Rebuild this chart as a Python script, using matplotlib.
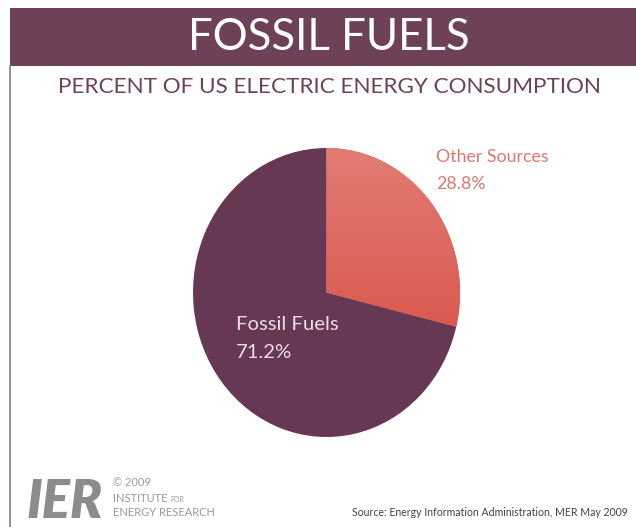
import numpy as np
import matplotlib.pyplot as plt
from matplotlib.patches import Rectangle
from matplotlib.colors import LinearSegmentedColormap

labels = ['Other Sources', 'Fossil Fuels']
shares = [28.8, 71.2]

banner_color = '#6e4159'
fossil_color = '#663853'
other_top = '#e27c73'
other_bottom = '#d4443a'

plt.rcParams['font.family'] = ['Lato', 'DejaVu Sans']

W, H = 636, 527
fig = plt.figure(figsize=(W / 100, H / 100), dpi=100)
fig.patch.set_facecolor('white')

# page decorations in pixel coordinates (y measured from top)
bg = fig.add_axes([0, 0, 1, 1])
bg.set_xlim(0, W)
bg.set_ylim(H, 0)
bg.axis('off')
bg.add_patch(Rectangle((10, 8), W - 10, 58, color=banner_color, lw=0))
bg.plot([10, 10], [66, H], color='#8a7a80', lw=1.2)
bg.text(329, 37, 'FOSSIL FUELS', color='white', fontsize=31.5,
        ha='center', va='center')
bg.text(329, 87, 'PERCENT OF US ELECTRIC ENERGY CONSUMPTION', color=banner_color,
        fontsize=16.2, ha='center', va='center')

# logo and source line
bg.text(27, 502, 'IER', color='#8c8c8c', fontsize=38, fontweight='heavy',
        fontstyle='italic', ha='left', va='center')
bg.text(113, 482, '\u00a9 2009', color='#999999', fontsize=8, ha='left', va='center')
bg.text(113, 498, 'INSTITUTE', color='#999999', fontsize=8, ha='left', va='center')
bg.text(170, 499, 'FOR', color='#999999', fontsize=5, ha='left', va='center')
bg.text(113, 513, 'ENERGY RESEARCH', color='#999999', fontsize=8, ha='left', va='center')
bg.text(628, 512, 'Source: Energy Information Administration, MER May 2009',
        color='#444444', fontsize=7.6, ha='right', va='center')

# pie drawn in its own axes, slightly taller than wide
ax = fig.add_axes([193 / W, 1 - 437 / H, 267 / W, 289 / H])
wedges, _ = ax.pie(shares, colors=[other_bottom, fossil_color], startangle=90,
                   counterclock=False, radius=1,
                   wedgeprops=dict(linewidth=0))
ax.set_aspect('auto')
ax.set_xlim(-1, 1)
ax.set_ylim(-1, 1)
ax.axis('off')

# vertical gradient on the smaller slice
grad = np.linspace(0, 1, 256).reshape(-1, 1)
cmap = LinearSegmentedColormap.from_list('other', [other_bottom, other_top])
img = ax.imshow(grad, cmap=cmap, extent=[-1, 1, -1, 1], origin='lower',
                aspect='auto', zorder=wedges[0].get_zorder() + 0.1)
img.set_clip_path(wedges[0])

bg.text(436, 157, labels[0], color='#e0776d', fontsize=12.8,
        ha='left', va='center')
bg.text(436, 184, f'{shares[0]}%', color='#e0776d', fontsize=12.8,
        ha='left', va='center')
fig.text(236 / W, 1 - 325 / H, labels[1], color='#ecdde4', fontsize=14.6,
         ha='left', va='center', zorder=10)
fig.text(236 / W, 1 - 353 / H, f'{shares[1]}%', color='#ecdde4', fontsize=14.6,
         ha='left', va='center', zorder=10)

fig.savefig('out.png', dpi=100)
